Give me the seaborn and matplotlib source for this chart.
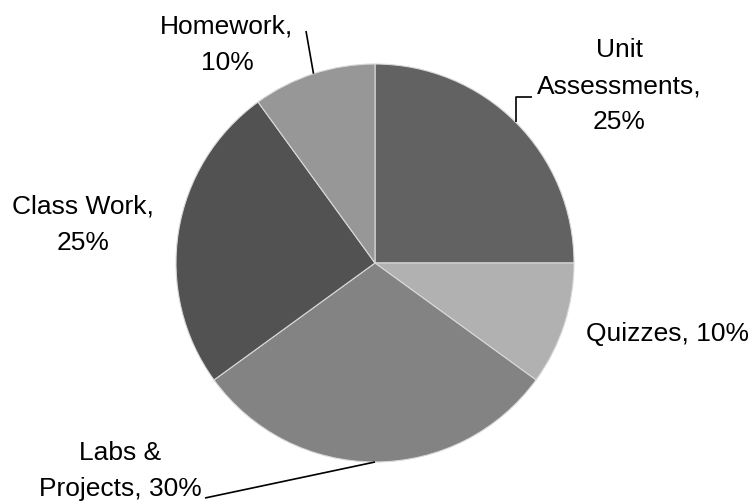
import numpy as np
import matplotlib
matplotlib.use("Agg")
import matplotlib.pyplot as plt
import seaborn as sns

# grading categories, clockwise from 12 o'clock
categories = ["Unit Assessments", "Quizzes", "Labs & Projects", "Class Work", "Homework"]
shares = [25, 10, 30, 25, 10]
slice_colors = ["#626262", "#b1b1b1", "#838383", "#525252", "#979797"]

sns.set_theme(style="white")
plt.rcParams['font.family'] = ['Liberation Sans', 'DejaVu Sans']

W, H = 756, 501
fig = plt.figure(figsize=(W / 100, H / 100), dpi=100)
ax = fig.add_axes([0, 0, 1, 1])

cx, cy, r = 375, H - 263, 199
wedges, _ = ax.pie(shares, colors=slice_colors, startangle=90, counterclock=False,
                   center=(cx, cy), radius=r, frame=True,
                   wedgeprops=dict(edgecolor="#d9d9d9", linewidth=0.8))
ax.set_xlim(0, W)
ax.set_ylim(0, H)
ax.set_aspect('equal')
ax.axis('off')

# label text, wrapped like the original
label_text = [
    f"Unit\nAssessments,\n{shares[0]}%",
    f"{categories[1]}, {shares[1]}%",
    f"Labs &\nProjects, {shares[2]}%",
    f"{categories[3]},\n{shares[3]}%",
    f"{categories[4]},\n{shares[4]}%",
]
# label centres, pixels from top-left
label_pos = [(619, 86), (667, 334), (120, 471), (83, 225), (227, 45)]

for txt, (px, py) in zip(label_text, label_pos):
    ax.text(px, H - py, txt, ha='center', va='center', fontsize=19,
            color='black', linespacing=1.65, multialignment='center')

# leader lines start at slice midpoints
def mid_point(w):
    a = np.deg2rad((w.theta1 + w.theta2) / 2)
    return cx + r * np.cos(a), cy + r * np.sin(a)

lk = dict(color='black', lw=1.2, solid_capstyle='butt')
x0, y0 = mid_point(wedges[0])
ax.plot([x0, x0, 532], [y0, H - 97, H - 97], **lk)
x0, y0 = mid_point(wedges[4])
ax.plot([x0, 306], [y0, H - 31], **lk)
x0, y0 = mid_point(wedges[2])
ax.plot([x0, 205], [y0, H - 498], **lk)

fig.savefig("out.png", dpi=100, facecolor="white")
